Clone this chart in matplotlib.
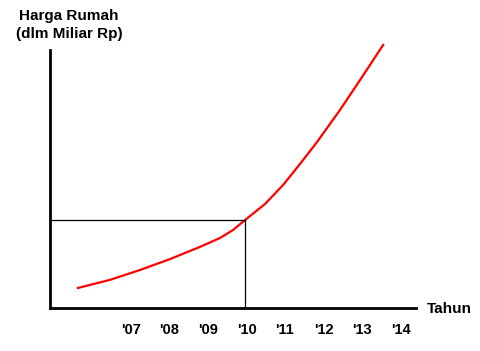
import matplotlib
matplotlib.use("Agg")
import matplotlib.pyplot as plt

years = [2005.62, 2006.45, 2007.23, 2008.01, 2008.79, 2009.31, 2009.65, 2009.96,
         2010.48, 2010.95, 2011.39, 2011.83, 2012.43, 2012.95, 2013.55]
prices = [0.77, 1.08, 1.46, 1.88, 2.35, 2.69, 3.00, 3.38,
          4.00, 4.73, 5.54, 6.38, 7.62, 8.77, 10.12]
tick_years = [2007, 2008, 2009, 2010, 2011, 2012, 2013, 2014]
tick_labels = ["'07", "'08", "'09", "'10", "'11", "'12", "'13", "'14"]
ref_year = 2009.96
ref_price = 3.38

plt.rcParams['font.family'] = ['Liberation Sans', 'DejaVu Sans']

W, H = 480, 351
fig = plt.figure(figsize=(W/100, H/100), dpi=100)
ax = fig.add_axes([50/W, (H-308)/H, (416-50)/W, (308-50)/H])

xmin = 2007 - 81/38.5
xmax = 2007 + 285/38.5
ax.set_xlim(xmin, xmax)
ax.set_ylim(0, 258/26)

ax.plot(years, prices, color='red', lw=1.6, clip_on=False, solid_joinstyle='round')
ax.plot([xmin, ref_year], [ref_price, ref_price], color='black', lw=0.9)
ax.plot([ref_year, ref_year], [0, ref_price], color='black', lw=0.9)

for s in ['top', 'right']:
    ax.spines[s].set_visible(False)
for s in ['left', 'bottom']:
    ax.spines[s].set_linewidth(2)

ax.set_xticks(tick_years)
ax.set_xticklabels(tick_labels, fontsize=10.5, fontweight='bold')
ax.tick_params(axis='x', length=0, pad=11)
ax.set_yticks([])

fig.text(69/W, 1 - 25/H, "Harga Rumah\n(dlm Miliar Rp)", ha='center', va='center',
         fontsize=11, fontweight='bold', linespacing=1.4)
fig.text(427/W, 1 - 309/H, "Tahun", ha='left', va='center', fontsize=11,
         fontweight='bold')

fig.savefig("out.png", dpi=100)
